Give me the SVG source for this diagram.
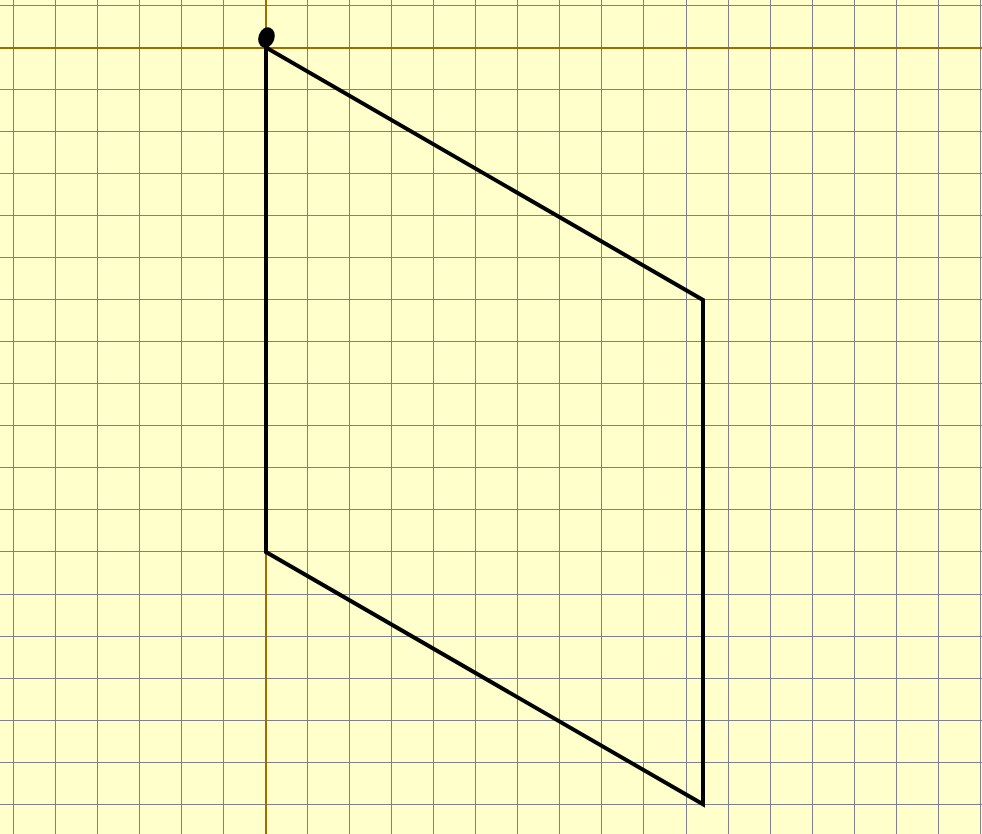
<svg xmlns="http://www.w3.org/2000/svg" width="982" height="834" viewBox="0 0 982 834">
<defs>
<style>
.grid{stroke:#7f7f90;stroke-width:1;fill:none;shape-rendering:crispEdges}
.axis{stroke:#a36a00;stroke-width:2;fill:none;shape-rendering:crispEdges}
.shape{stroke:#000;stroke-width:4;fill:none;stroke-linejoin:miter}
</style>
</defs>
<rect width="982" height="834" fill="#ffffcc"/>
<g id="grid">
<path class="grid" d="M13.5 0V834M55.5 0V834M97.5 0V834M139.5 0V834M181.5 0V834M223.5 0V834M307.5 0V834M349.5 0V834M391.5 0V834M433.5 0V834M475.5 0V834M517.5 0V834M559.5 0V834M601.5 0V834M643.5 0V834M686.5 0V834M728.5 0V834M770.5 0V834M812.5 0V834M854.5 0V834M896.5 0V834M938.5 0V834M980.5 0V834"/>
<path class="grid" d="M0 5.5H982M0 89.5H982M0 131.5H982M0 173.5H982M0 215.5H982M0 257.5H982M0 299.5H982M0 341.5H982M0 383.5H982M0 425.5H982M0 467.5H982M0 509.5H982M0 551.5H982M0 594.5H982M0 636.5H982M0 678.5H982M0 720.5H982M0 762.5H982M0 804.5H982"/>
</g>
<g id="axes">
<line class="axis" x1="0" y1="47.5" x2="982" y2="47.5"/>
<line class="axis" x1="266" y1="0" x2="266" y2="834"/>
</g>
<g id="connectors">
<path class="shape" d="M266 47.5L703 300L703 804.3L266 552Z"/>
</g>
<g id="origin">
<ellipse cx="266.5" cy="37.5" rx="8" ry="10.5" transform="rotate(20 266.5 37.5)" fill="#000"/>
</g>
</svg>
